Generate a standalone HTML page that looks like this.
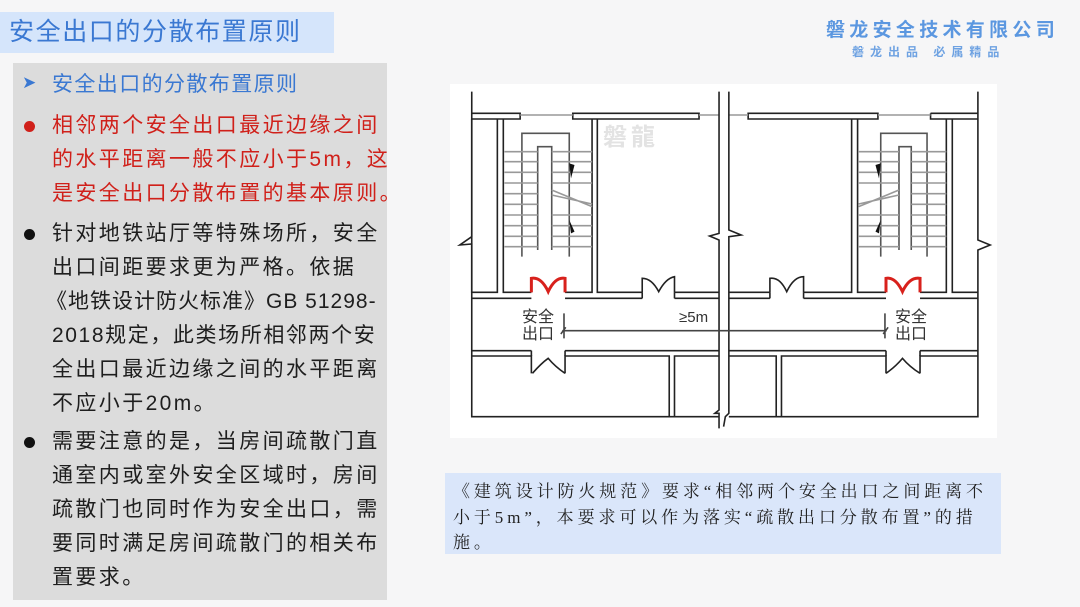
<!DOCTYPE html>
<html><head><meta charset="utf-8"><style>
*{margin:0;padding:0;box-sizing:border-box}
body{width:1080px;height:607px;background:#f6f6f7;position:relative;overflow:hidden;font-family:"Liberation Sans","Noto Sans CJK SC",sans-serif}
.title{position:absolute;left:0;top:12px;width:334px;height:41px;background:#d5e5fb;color:#3a78d2;font-size:25px;letter-spacing:1.6px;line-height:41px;padding-left:9px}
.logo{position:absolute;left:826px;top:15px;color:#5b97e0;font-size:19px;font-weight:bold;letter-spacing:4.3px}
.logo2{position:absolute;left:852px;top:43px;color:#6ea2e2;font-size:12px;font-weight:bold;letter-spacing:6px}
.panel{position:absolute;left:13px;top:63px;width:374px;height:537px;background:#dcdcdc}
.l{position:absolute;left:52px;font-size:21px;letter-spacing:2.4px;line-height:34px;color:#1e1e1e;white-space:nowrap}
.b{position:absolute;left:24px;width:11px;height:11px;border-radius:50%;background:#111}
.diag{position:absolute;left:450px;top:84px;width:547px;height:354px;background:#fff}
.box{position:absolute;left:445px;top:473px;width:556px;height:81px;background:#dae6fa;padding:6px 0 0 8px;font-family:"Liberation Serif","Noto Serif CJK SC",serif;font-size:17px;letter-spacing:3.9px;line-height:25.5px;color:#222;white-space:nowrap}
</style></head><body>
<div class="title">安全出口的分散布置原则</div>
<div class="logo">磐龙安全技术有限公司</div>
<div class="logo2">磐龙出品 必属精品</div>
<div class="panel"></div>
<div style="position:absolute;left:22px;top:73px;color:#3a78d2;font-size:17px">➤</div>
<div class="l" style="top:68px;color:#3a78d2;font-size:21px;letter-spacing:1.4px">安全出口的分散布置原则</div>
<div class="b" style="top:121px;background:#d0201a"></div>
<div class="l" style="top:109px;color:#d0201a">相邻两个安全出口最近边缘之间</div>
<div class="l" style="top:143px;color:#d0201a">的水平距离一般不应小于5m，这</div>
<div class="l" style="top:177px;color:#d0201a">是安全出口分散布置的基本原则。</div>
<div class="b" style="top:229px"></div>
<div class="l" style="top:217px">针对地铁站厅等特殊场所，安全</div>
<div class="l" style="top:251px">出口间距要求更为严格。依据</div>
<div class="l" style="top:285px;left:46px;letter-spacing:1px">《地铁设计防火标准》GB 51298-</div>
<div class="l" style="top:319px;letter-spacing:1.6px">2018规定，此类场所相邻两个安</div>
<div class="l" style="top:353px">全出口最近边缘之间的水平距离</div>
<div class="l" style="top:387px">不应小于20m。</div>
<div class="b" style="top:437px"></div>
<div class="l" style="top:425px">需要注意的是，当房间疏散门直</div>
<div class="l" style="top:459px">通室内或室外安全区域时，房间</div>
<div class="l" style="top:493px">疏散门也同时作为安全出口，需</div>
<div class="l" style="top:527px">要同时满足房间疏散门的相关布</div>
<div class="l" style="top:561px">置要求。</div>

<div class="diag"></div>
<svg style="position:absolute;left:450px;top:80px" width="550" height="360" viewBox="0 0 1568 1080" preserveAspectRatio="none">
<g fill="none" stroke="#222" stroke-width="1.6" vector-effect="non-scaling-stroke">
<path d="M62,100H200V117H62M350,100H710V117H350ZM850,100H1220V117H850ZM1370,100H1505M1370,100V117H1505" vector-effect="non-scaling-stroke"/>
<path d="M200,105H350M710,105H767M795,105H850M1220,105H1370" stroke="#999" vector-effect="non-scaling-stroke"/>
<path d="M62,35V470L28,495L62,492V1010H767M795,1010H1505V510L1540,495L1505,480V35" vector-effect="non-scaling-stroke"/>
<path d="M767,35V460L740,468L767,480V990L755,1000L767,1000V1045M795,35V450L830,465L795,470V1000L785,1010L780,1040" vector-effect="non-scaling-stroke"/>
<path d="M62,117V637H135V117M152,117V637H232M328,637H405V117M420,117V637H548M640,637H767M795,637H912M1008,637H1145V117M1162,117V637H1243M1340,637H1415V117M1432,117V637H1505" vector-effect="non-scaling-stroke"/>
<path d="M62,655H232M328,655H548M640,655H767M795,655H912M1008,655H1243M1340,655H1505" vector-effect="non-scaling-stroke"/>
<path d="M548,637V655M640,637V655M912,637V655M1008,637V655M232,812V828M328,812V828M1243,812V828M1340,812V828" vector-effect="non-scaling-stroke"/>
<path d="M62,812H232M328,812H767M795,812H1243M1340,812H1505M62,828H232V880M328,880V828H625V1010M640,1010V828H767M795,828H930V1010M945,1010V828H1243V880M1340,880V828H1505" vector-effect="non-scaling-stroke"/>
<path d="M548,637V595Q575,595 595,635Q615,595 640,590V637M912,637V595Q940,590 960,635Q980,590 1008,590V637" vector-effect="non-scaling-stroke"/>
<path d="M235,880Q260,850 280,835Q300,860 328,880M1243,880Q1270,860 1290,835Q1310,860 1340,880" vector-effect="non-scaling-stroke"/>
<path d="M205,530V160H340V530M250,510V200H290V510" stroke="#555" vector-effect="non-scaling-stroke"/>
<path d="M155,215H250M290,215H405M155,245H250M290,245H405M155,277H250M290,277H405M155,309H250M290,309H405M155,341H250M155,373H250M155,405H250M290,405H405M155,437H250M290,437H405M155,469H250M290,469H405M155,500H250M290,500H405M290,330L405,380M290,345L405,372" stroke="#999" vector-effect="non-scaling-stroke"/>
<path d="M1228,530V160H1360V530M1280,510V200H1315V510" stroke="#555" vector-effect="non-scaling-stroke"/>
<path d="M1163,215H1280M1315,215H1415M1163,245H1280M1315,245H1415M1163,277H1280M1315,277H1415M1163,309H1280M1315,309H1415M1315,341H1415M1315,373H1415M1163,405H1280M1315,405H1415M1163,437H1280M1315,437H1415M1163,469H1280M1315,469H1415M1163,500H1280M1315,500H1415M1165,380L1280,330M1165,372L1280,345" stroke="#999" vector-effect="non-scaling-stroke"/>
<path d="M320,752H1245M325,700V775M1240,700V775M316,762L330,742M1235,762L1249,742" stroke="#444" vector-effect="non-scaling-stroke"/>
</g>
<g fill="#111"><path d="M340,250L355,255L345,295Z"/><path d="M340,420L355,455L345,460Z"/><path d="M1228,250L1213,255L1223,295Z"/><path d="M1228,420L1213,455L1223,460Z"/></g>
<g fill="none" stroke="#d8211c" stroke-width="3" vector-effect="non-scaling-stroke">
<path d="M232,637V595Q260,590 280,635Q300,590 328,595V637M1243,637V595Q1270,590 1290,635Q1310,590 1340,595V637" vector-effect="non-scaling-stroke"/>
</g>
</svg>
<div style="position:absolute;left:603px;top:117px;color:#e3e3e3;font-size:24px;font-weight:bold;letter-spacing:4px">磐龍</div>
<div style="position:absolute;left:522px;top:309px;font-size:16px;line-height:17px;color:#333">安全<br>出口</div>
<div style="position:absolute;left:895px;top:309px;font-size:16px;line-height:17px;color:#333">安全<br>出口</div>
<div style="position:absolute;left:679px;top:309px;font-size:15px;color:#333">≥5m</div>
<div class="box">《建筑设计防火规范》要求“相邻两个安全出口之间距离不<br>小于5m”，本要求可以作为落实“疏散出口分散布置”的措<br>施。</div>
</body></html>
